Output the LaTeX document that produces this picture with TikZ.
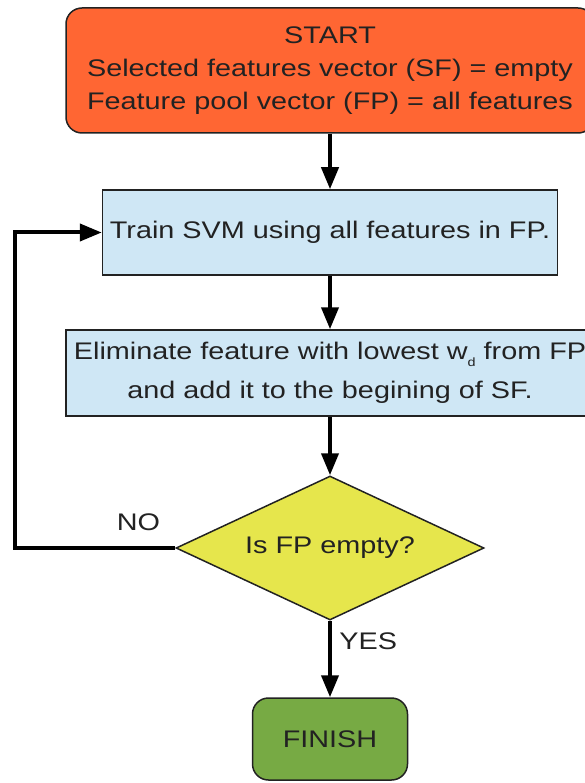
\documentclass[tikz,border=0pt]{standalone}
\usepackage{fontspec}
\setmainfont[FakeStretch=1.2]{Liberation Sans}
\usepackage{xcolor}
\usetikzlibrary{positioning, arrows.meta}
\usetikzlibrary{shapes,shapes.geometric}

\definecolor{startred}{HTML}{FF6633}
\definecolor{stepblue}{HTML}{CFE7F5}
\definecolor{testyellow}{HTML}{E6E64C}
\definecolor{endgreen}{HTML}{77AA44}
\definecolor{inkgray}{HTML}{222222}

\tikzset{
	flowbox/.style={draw=inkgray, line width=1.5pt, text=inkgray, align=center, inner sep=0pt},
	termbox/.style={flowbox, rounded corners=16pt},
	stepbox/.style={flowbox, fill=stepblue},
	testbox/.style={flowbox, diamond, aspect=2.14, fill=testyellow, minimum width=308pt, minimum height=144pt},
	flowline/.style={line width=4pt, -{Triangle[length=22pt,width=17pt]}},
}

\begin{document}
\begin{tikzpicture}[x=1pt, y=-1pt, node distance=57pt,
		every node/.style={font=\fontsize{24}{33}\selectfont}]
		\useasboundingbox (0,0) rectangle (585,783);
		\node[termbox, fill=startred, minimum width=528pt, minimum height=125pt] (start) at (330,70.5)
			{START\\Selected features vector (SF) = empty\\Feature pool vector (FP) = all features};
		\node[stepbox, minimum width=455pt, minimum height=85pt, below=55.5pt of start] (train)
			{Train SVM using all features in FP.};
		\node[stepbox, minimum width=528pt, minimum height=86pt, below=53.5pt of train] (elim)
			{Eliminate feature with lowest w\raisebox{-7pt}{\fontsize{12}{12}\selectfont d} from FP\\[6pt]and add it to the begining of SF.};
		\node[testbox, below=58.5pt of elim] (test) {Is FP empty?};
		\node[termbox, fill=endgreen, minimum width=155pt, minimum height=82pt, below=76.5pt of test] (finish)
			{FINISH};
		
		\draw[flowline] (start) -- (train);
		\draw[flowline] (train) -- (elim);
		\draw[flowline] (elim) -- (test);
		\draw[flowline] (test) -- node[right=4pt, pos=0.27, text=inkgray] {YES} (finish);
		\draw[flowline] (test.west) -- node[above=12pt, pos=0.23, text=inkgray] {NO} ++(-160,0) |- (train.west);
		
	\end{tikzpicture}
\end{document}
